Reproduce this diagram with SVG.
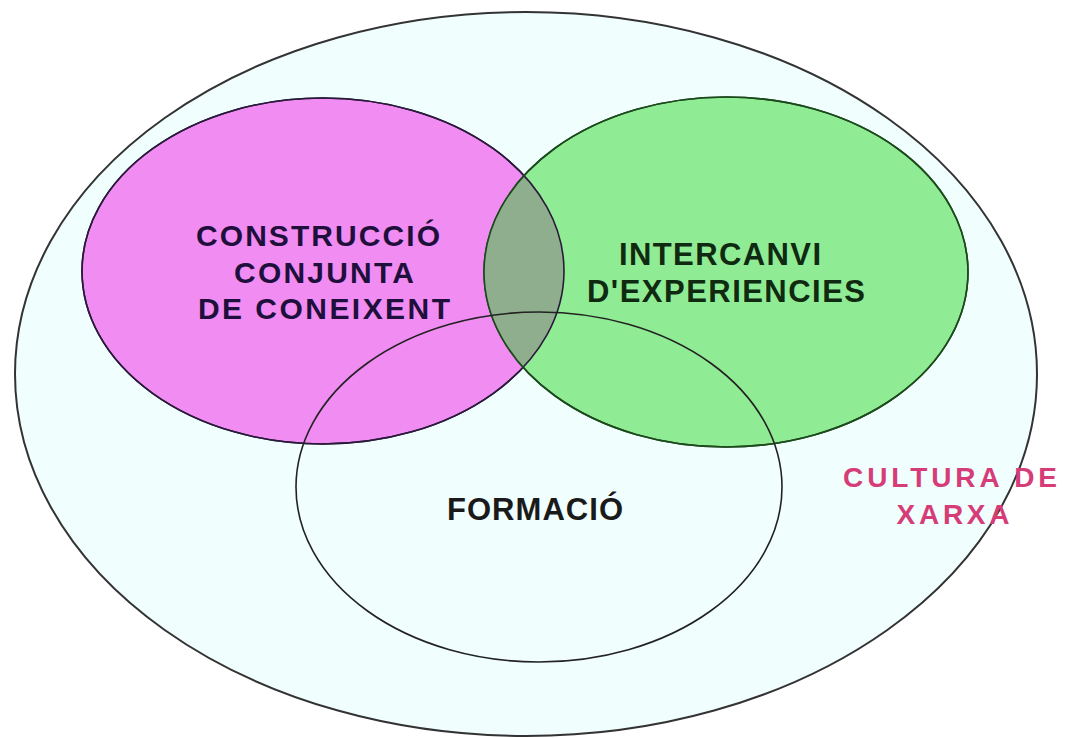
<svg xmlns="http://www.w3.org/2000/svg" width="1068" height="738" viewBox="0 0 1068 738">
<style>
.t{font-family:"Liberation Sans",Arial,sans-serif;font-weight:bold;text-anchor:middle}
</style>
<defs>
<clipPath id="clipPink"><ellipse cx="323" cy="271" rx="241" ry="173"/></clipPath>
</defs>
<rect width="1068" height="738" fill="#ffffff"/>
<g id="cultura">
<ellipse cx="526" cy="374" rx="511" ry="362" fill="#f0fefe" stroke="#333333" stroke-width="2"/>
</g>
<g id="construccio">
<ellipse cx="323" cy="271" rx="241" ry="173" fill="#f08cf2" stroke="#2a1a3a" stroke-width="1.6"/>
</g>
<g id="intercanvi">
<ellipse cx="726" cy="272" rx="242" ry="175" fill="#90ec94" stroke="#1d4a1d" stroke-width="1.6"/>
<ellipse cx="726" cy="272" rx="242" ry="175" fill="#8eae8e" clip-path="url(#clipPink)"/>
<ellipse cx="323" cy="271" rx="241" ry="173" fill="none" stroke="#2a1a3a" stroke-width="1.6"/>
<ellipse cx="726" cy="272" rx="242" ry="175" fill="none" stroke="#1d4a1d" stroke-width="1.6"/>
</g>
<g id="formacio">
<ellipse cx="539" cy="487" rx="243" ry="175" fill="none" stroke="#222222" stroke-width="1.6"/>
</g>
<g id="labels">
<text class="t" x="318" y="246" font-size="30" fill="#1e0f3c" textLength="244" lengthAdjust="spacing">CONSTRUCCIÓ</text>
<text class="t" x="324" y="283" font-size="30" fill="#1e0f3c" textLength="180" lengthAdjust="spacing">CONJUNTA</text>
<text class="t" x="324" y="319" font-size="30" fill="#1e0f3c" textLength="252" lengthAdjust="spacing">DE CONEIXENT</text>
<text class="t" x="720" y="265" font-size="31" fill="#0f2a10" textLength="202" lengthAdjust="spacing">INTERCANVI</text>
<text class="t" x="726" y="302" font-size="31" fill="#0f2a10" textLength="278" lengthAdjust="spacing">D'EXPERIENCIES</text>
<text class="t" x="535" y="520" font-size="31" fill="#1a1a1a" textLength="176" lengthAdjust="spacing">FORMACIÓ</text>
<text class="t" x="950" y="487" font-size="28" fill="#d63c78" textLength="214" lengthAdjust="spacing">CULTURA DE</text>
<text class="t" x="953" y="524" font-size="28" fill="#d63c78" textLength="113" lengthAdjust="spacing">XARXA</text>
</g>
</svg>
